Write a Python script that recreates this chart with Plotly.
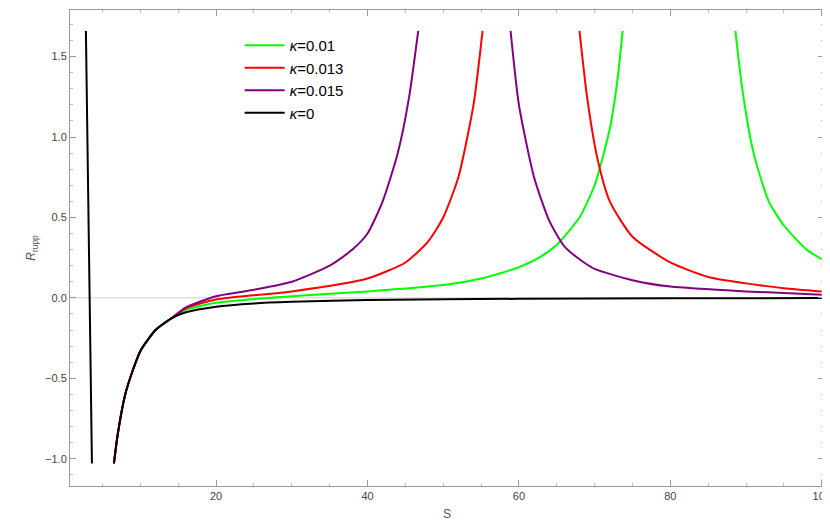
import plotly.graph_objects as go

S_left = [2.8, 3.6]
R_left = [1.66, -1.03]
S_core = [6.5, 7, 8, 9, 10, 12, 14, 16]
R_core = [-1.03, -0.85, -0.6, -0.45, -0.33, -0.2, -0.13, -0.09]

S_k0 = S_core + [20, 25, 30, 40, 60, 80, 100]
R_k0 = R_core + [-0.055, -0.035, -0.025, -0.013, -0.006, -0.003, -0.001]

S_g1 = S_core[:-1] + [16, 20, 30, 40, 50, 55, 60, 63, 65, 68, 70, 72, 73, 73.7]
R_g1 = R_core[:-1] + [-0.075, -0.03, 0.01, 0.04, 0.08, 0.12, 0.19, 0.26, 0.33, 0.5, 0.7, 1.05, 1.35, 1.66]
S_g2 = [88.6, 89.5, 91, 93, 95, 98, 100]
R_g2 = [1.66, 1.3, 0.9, 0.6, 0.45, 0.3, 0.24]

S_r1 = S_core[:-1] + [16, 20, 30, 40, 45, 48, 50, 52, 54, 55.2]
R_r1 = R_core[:-1] + [-0.065, -0.01, 0.04, 0.12, 0.22, 0.35, 0.5, 0.75, 1.2, 1.66]
S_r2 = [68, 69, 70.4, 72, 75, 80, 85, 90, 95, 100]
R_r2 = [1.66, 1.25, 0.86, 0.6, 0.38, 0.22, 0.13, 0.09, 0.06, 0.04]

S_p1 = S_core[:-1] + [16, 20, 25, 30, 35, 38, 40, 42, 44, 45.5, 46.7]
R_p1 = R_core[:-1] + [-0.06, 0.01, 0.05, 0.1, 0.2, 0.3, 0.4, 0.6, 0.9, 1.25, 1.66]
S_p2 = [58.9, 60, 62, 64, 66, 68, 70, 75, 80, 90, 100]
R_p2 = [1.66, 1.2, 0.75, 0.48, 0.32, 0.24, 0.18, 0.11, 0.07, 0.04, 0.02]

fig = go.Figure()
def add(x, y, c, name, show):
    fig.add_trace(go.Scatter(x=x, y=y, mode="lines", line=dict(color=c, width=2, shape="spline", smoothing=0.6),
                             name=name, showlegend=show))
add(S_g1, R_g1, "#00ff00", "<i>κ</i>=0.01", True)
add(S_g2, R_g2, "#00ff00", "", False)
add(S_r1, R_r1, "#ff0000", "<i>κ</i>=0.013", True)
add(S_r2, R_r2, "#ff0000", "", False)
add(S_p1, R_p1, "#800080", "<i>κ</i>=0.015", True)
add(S_p2, R_p2, "#800080", "", False)
add(S_k0, R_k0, "#000000", "<i>κ</i>=0", True)
fig.add_trace(go.Scatter(x=S_left, y=R_left, mode="lines", line=dict(color="#000", width=2), showlegend=False))

fig.add_hline(y=0, line=dict(color="#d0d0d0", width=1), layer="below")
ax = dict(showgrid=False, zeroline=False, showline=True, linecolor="#999", mirror="allticks", automargin=False,
          ticks="inside", ticklen=6, tickcolor="#999", tickfont=dict(family="Liberation Sans", size=11, color="#444"))
fig.update_xaxes(**ax, range=[0.7, 100.3], tick0=0, dtick=20,
                 minor=dict(dtick=5, ticks="inside", ticklen=3, tickcolor="#bbb"),
                 title=dict(text="S", font=dict(size=12, color="#555"), standoff=8))
fig.update_yaxes(**ax, range=[-1.17, 1.79], tick0=0, dtick=0.5, tickformat=".1f",
                 minor=dict(dtick=0.1, ticks="inside", ticklen=3, tickcolor="#bbb"),
                 title=dict(text="<i>R</i><sub>rupp</sub>", font=dict(size=12, color="#555"), standoff=6))
fig.update_layout(width=830, height=524, plot_bgcolor="white", paper_bgcolor="white",
                  margin=dict(l=62, r=14, t=2, b=46, autoexpand=False),
                  font=dict(family="Liberation Sans"),
                  legend=dict(x=0.225, y=0.96, xanchor="left", yanchor="top", bgcolor="rgba(0,0,0,0)",
                              font=dict(size=15, color="#000"), tracegroupgap=0, itemwidth=40))
fig.write_html("out.html")
